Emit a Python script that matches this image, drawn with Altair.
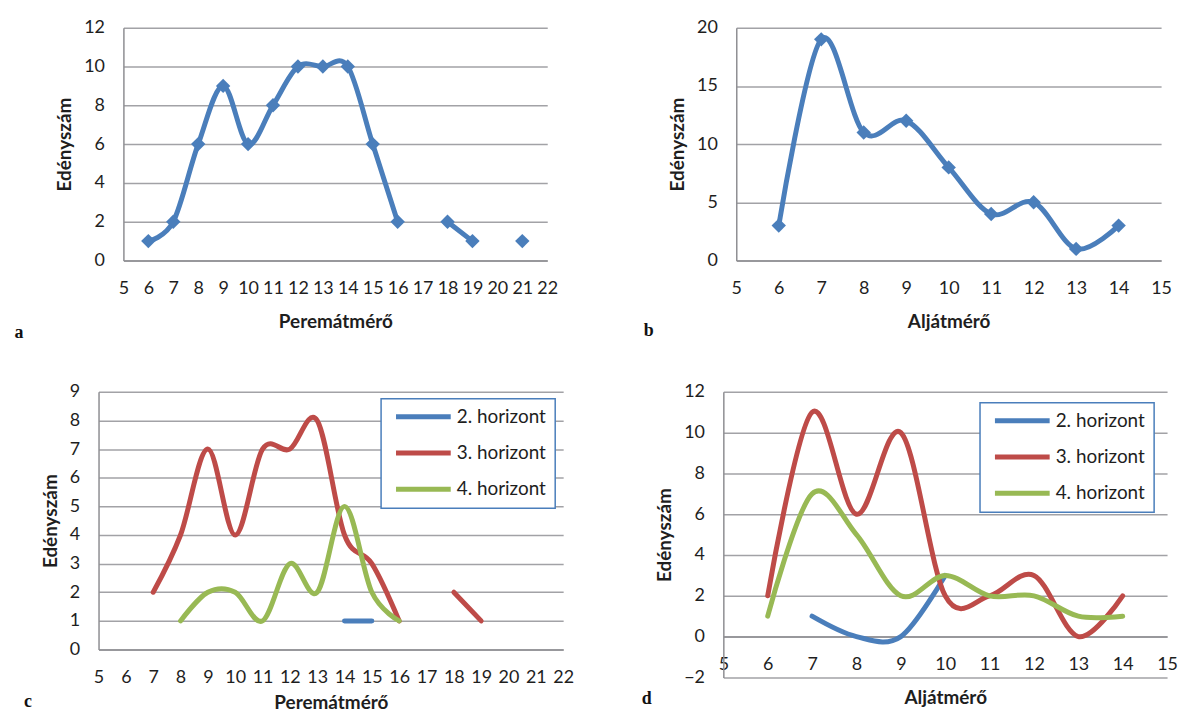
import altair as alt
import pandas as pd

# ---------------- data ----------------
PEREM_TICKS = list(range(5, 23))
ALJ_TICKS = list(range(5, 16))
A_Y_TICKS = [0, 2, 4, 6, 8, 10, 12]
B_Y_TICKS = [0, 5, 10, 15, 20]
C_Y_TICKS = [0, 1, 2, 3, 4, 5, 6, 7, 8, 9]
D_Y_TICKS = [-2, 0, 2, 4, 6, 8, 10, 12]

A_X = list(range(6, 22))
A_COUNTS = [1, 2, 6, 9, 6, 8, 10, 10, 10, 6, 2, None, 2, 1, None, 1]

B_X = list(range(6, 15))
B_COUNTS = [3, 19, 11, 12, 8, 4, 5, 1, 3]

SERIES = ["2. horizont", "3. horizont", "4. horizont"]
COLORS = ["#4A7EBB", "#BE4B48", "#98B954"]

C_X = list(range(7, 20))
C_H2 = [None, None, None, None, None, None, None, 1, 1, None, None, None, None]
C_H3 = [2, 4, 7, 4, 7, 7, 8, 4, 3, 1, None, 2, 1]
C_H4 = [None, 1, 2, 2, 1, 3, 2, 5, 2, 1, None, None, None]

D_X = list(range(6, 15))
D_H2 = [None, 1, 0, 0, 3, None, None, None, None]
D_H3 = [2, 11, 6, 10, 2, 2, 3, 0, 2]
D_H4 = [1, 7, 5, 2, 3, 2, 2, 1, 1]

Y_TITLE = "Edényszám"
X_TITLE_PEREM = "Peremátmérő"
X_TITLE_ALJ = "Aljátmérő"

BLUE = COLORS[0]
FONT = "Lato"


def runs(xs, ys, name="s"):
    rows, seg = [], 0
    for x, y in zip(xs, ys):
        if y is None:
            seg += 1
            continue
        rows.append({"x": x, "y": y, "series": name, "seg": f"{name}-{seg}"})
    return rows


def bounds(w, h, k, r, t, b):
    # invisible extent marker that fixes the panel's layout box
    return alt.Chart(pd.DataFrame({"b": [0]})).mark_rule(opacity=0, strokeWidth=0).encode(
        x=alt.value(-k), x2=alt.value(w + r), y=alt.value(-t), y2=alt.value(h + b)
    )


def spacer(w):
    return alt.Chart(pd.DataFrame({"b": [0]})).mark_rule(opacity=0, strokeWidth=0).encode(
        x=alt.value(0), y=alt.value(0)
    ).properties(width=w, height=1)


def letter(txt, x, y):
    return alt.Chart(pd.DataFrame({"t": [txt]})).mark_text(
        font="Liberation Serif", fontSize=18, fontWeight="bold", color="#111",
        align="center", baseline="middle"
    ).encode(text="t:N", x=alt.value(x), y=alt.value(y))


def xenc(ticks, title, offset=0, title_pad=15):
    return alt.X(
        "x:Q",
        scale=alt.Scale(domain=[ticks[0], ticks[-1]], nice=False, zero=False),
        axis=alt.Axis(values=ticks, title=title, format="d", grid=False, ticks=False,
                      labelFlush=False, labelOverlap=False, labelPadding=19,
                      titlePadding=title_pad, offset=offset),
    )


def yenc(ticks):
    return alt.Y(
        "y:Q",
        scale=alt.Scale(domain=[ticks[0], ticks[-1]], nice=False, zero=False),
        axis=alt.Axis(values=ticks, title=Y_TITLE, format="d", grid=True, ticks=False,
                      labelFlush=False, labelOverlap=False, labelPadding=19,
                      titlePadding=9),
    )


LINE_STYLE = dict(interpolate="cardinal", strokeWidth=5, strokeCap="round", strokeJoin="round")


def single_panel(xs, ys, xticks, yticks, xtitle, w, h, k, r, lx, ly, txt):
    df = pd.DataFrame(runs(xs, ys))
    base = alt.Chart(df).encode(x=xenc(xticks, xtitle), y=yenc(yticks))
    line = base.mark_line(color=BLUE, **LINE_STYLE).encode(detail="seg:N")
    pts = base.mark_point(shape="diamond", filled=True, size=210, opacity=1, color=BLUE)
    return alt.layer(bounds(w, h, k, r, 17, 90), line, pts, letter(txt, lx, ly)).properties(
        width=w, height=h
    )


def multi_panel(xs, series_vals, xticks, yticks, xtitle, w, h, k, r, b, lx, ly, txt,
                legx, legy, axis_offset=0, title_pad=15):
    rows = []
    for name, vals in zip(SERIES, series_vals):
        rows += runs(xs, vals, name)
    df = pd.DataFrame(rows)
    line = alt.Chart(df).mark_line(**LINE_STYLE).encode(
        x=xenc(xticks, xtitle, axis_offset, title_pad),
        y=yenc(yticks),
        detail="seg:N",
        color=alt.Color(
            "series:N",
            scale=alt.Scale(domain=SERIES, range=COLORS),
            legend=alt.Legend(
                title=None, orient="none", legendX=legx, legendY=legy,
                symbolType="M-0.75,0H13", symbolSize=64, symbolStrokeWidth=5,
                labelFont=FONT, labelFontSize=19, labelColor="#1E1E1E",
                labelOffset=48.5, padding=8.5, rowPadding=15.5,
                strokeColor="#4A7EBB", fillColor="white",
                labelExpr="datum.label + '\u00a0\u00a0'",
            ),
        ),
    )
    return alt.layer(bounds(w, h, k, r, 17, b), line, letter(txt, lx, ly)).properties(
        width=w, height=h
    )


A_W, A_H = 426, 234
B_W, B_H = 427, 234
C_W, C_H = 467, 259
D_W, D_H = 446, 287

panel_a = single_panel(A_X, A_COUNTS, PEREM_TICKS, A_Y_TICKS, X_TITLE_PEREM,
                       A_W, A_H, 111, 20, -105, 307, "a")
panel_b = single_panel(B_X, B_COUNTS, ALJ_TICKS, B_Y_TICKS, X_TITLE_ALJ,
                       B_W, B_H, 168, 11, -88, 305, "b")
panel_c = multi_panel(C_X, [C_H2, C_H3, C_H4], PEREM_TICKS, C_Y_TICKS, X_TITLE_PEREM,
                      C_W, C_H, 86, 20, 40, -71, 312, "c", 284, 7, title_pad=7)
d_offset = -D_H * (0 - D_Y_TICKS[0]) / (D_Y_TICKS[-1] - D_Y_TICKS[0])
panel_d = multi_panel(D_X, [D_H2, D_H3, D_H4], ALJ_TICKS, D_Y_TICKS, X_TITLE_ALJ,
                      D_W, D_H, 139, 11, 20, -77, 309, "d", 258, 11,
                      axis_offset=d_offset, title_pad=15)

row1 = alt.hconcat(spacer(2), panel_a, panel_b, spacing=0).resolve_scale(
    x="independent", y="independent")
row2 = alt.hconcat(spacer(2), panel_c, panel_d, spacing=0).resolve_scale(
    x="independent", y="independent", color="independent")

chart = (
    alt.vconcat(row1, row2, spacing=23)
    .resolve_scale(x="independent", y="independent", color="independent")
    .properties(padding=0, background="white")
    .configure_view(stroke="transparent")
    .configure_axis(
        domainColor="#8E8E92", domainWidth=1.5,
        gridColor="#A2A2A6", gridWidth=1.5,
        labelFont=FONT, labelFontSize=18, labelColor="#1E1E1E",
        titleFont=FONT, titleFontSize=19, titleFontWeight="bold", titleColor="#1E1E1E",
    )
    .configure_legend(strokeWidth=1.5)
)

chart.save("out.html", embed_options={"renderer": "svg", "actions": False})
